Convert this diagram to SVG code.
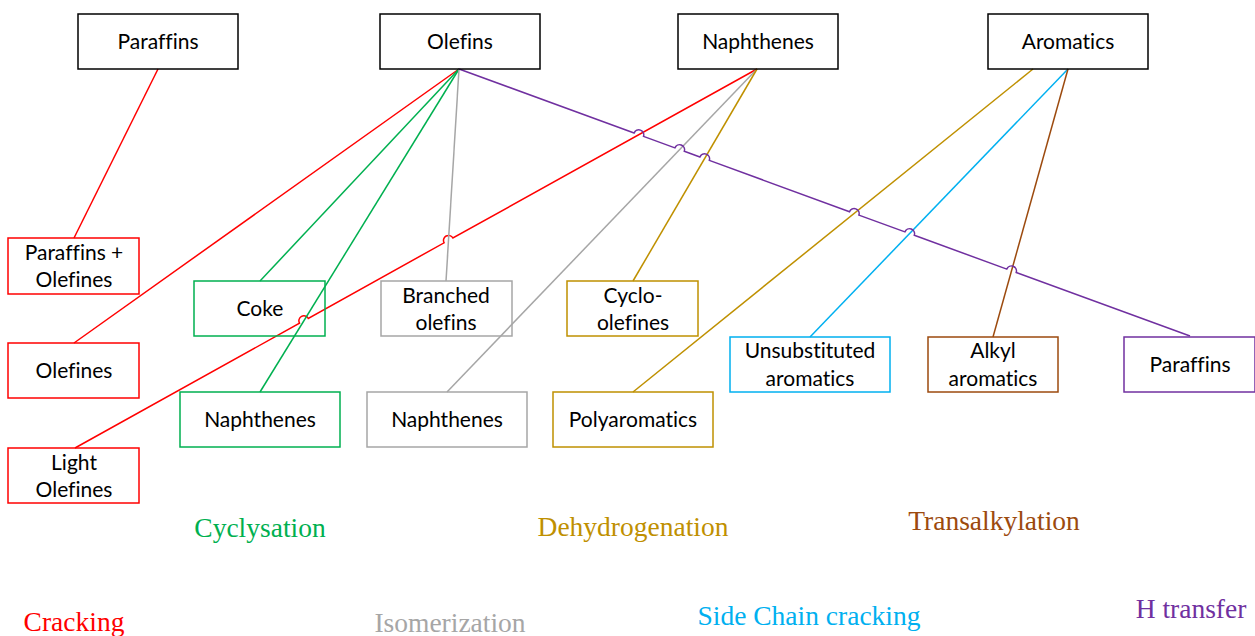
<svg xmlns="http://www.w3.org/2000/svg" width="1255" height="636" viewBox="0 0 1255 636">
<style>
.box{fill:none;stroke-width:1.5}
.t{font-family:Lato,"Liberation Sans",sans-serif;font-size:21px;fill:#000;text-anchor:middle;font-variant-ligatures:none}
.lbl{font-family:"Liberation Serif",serif;font-size:27.5px;text-anchor:middle}
.c{fill:none;stroke-width:1.5}
.red{stroke:#FF0000}.grn{stroke:#00B050}.gry{stroke:#A6A6A6}.gld{stroke:#BF9000}.cyn{stroke:#00B0F0}.brn{stroke:#9C4A0E}.pur{stroke:#7030A0}.blk{stroke:#000}
</style>
<rect width="1255" height="636" fill="#fff"/>
<g id="connectors">
<path class="c red" d="M158,69 L74,238"/>
<path class="c red" d="M459,69 L74,343"/>
<path class="c red" d="M75,448 L299.5,323.2 A5,5 0 0 1 308.3,318.4 L444.1,242.8 A5,5 0 0 1 452.9,238 L757,69"/>
<path class="c grn" d="M459,69 L260,281"/>
<path class="c grn" d="M459,69 L260,392"/>
<path class="c gry" d="M459,69 L446,281"/>
<path class="c gry" d="M757,69 L447,392"/>
<path class="c gld" d="M757,69 L633,281"/>
<path class="c gld" d="M1033,69 L633,392"/>
<path class="c cyn" d="M1068,69 L810,337"/>
<path class="c brn" d="M1068,69 L993,337"/>
<path class="c pur" d="M459,69 L634.1,133 A5,5 0 0 1 643.5,136.4 L674.9,147.9 A5,5 0 0 1 684.3,151.3 L699.9,157 A5,5 0 0 1 709.3,160.4 L849.5,211.7 A5,5 0 0 1 858.9,215.1 L904.9,231.9 A5,5 0 0 1 914.3,235.3 L1006.8,269.1 A5,5 0 0 1 1016.2,272.5 L1190,336"/>
</g>
<g id="n-paraffins"><rect class="box blk" x="78" y="14" width="160" height="55"/><text class="t" x="158" y="49">Paraffins</text></g>
<g id="n-olefins"><rect class="box blk" x="380" y="14" width="160" height="55"/><text class="t" x="460" y="49">Olefins</text></g>
<g id="n-naphthenes"><rect class="box blk" x="678" y="14" width="160" height="55"/><text class="t" x="758" y="49">Naphthenes</text></g>
<g id="n-aromatics"><rect class="box blk" x="988" y="14" width="160" height="55"/><text class="t" x="1068" y="49">Aromatics</text></g>
<g id="n-paraffins-olefines"><rect class="box red" x="8" y="238" width="131" height="56"/><text class="t" x="74" y="260">Paraffins +</text><text class="t" x="74" y="287">Olefines</text></g>
<g id="n-olefines"><rect class="box red" x="8" y="343" width="131" height="55"/><text class="t" x="74" y="378">Olefines</text></g>
<g id="n-light-olefines"><rect class="box red" x="8" y="448" width="131" height="55"/><text class="t" x="74" y="470">Light</text><text class="t" x="74" y="497">Olefines</text></g>
<g id="n-coke"><rect class="box grn" x="194" y="281" width="131" height="55"/><text class="t" x="260" y="316">Coke</text></g>
<g id="n-naphthenes-green"><rect class="box grn" x="180" y="392" width="160" height="55"/><text class="t" x="260" y="427">Naphthenes</text></g>
<g id="n-branched-olefins"><rect class="box gry" x="381" y="281" width="131" height="55"/><text class="t" x="446" y="303">Branched</text><text class="t" x="446" y="330">olefins</text></g>
<g id="n-naphthenes-gray"><rect class="box gry" x="367" y="392" width="160" height="55"/><text class="t" x="447" y="427">Naphthenes</text></g>
<g id="n-cyclo-olefines"><rect class="box gld" x="567" y="281" width="131" height="55"/><text class="t" x="633" y="303">Cyclo-</text><text class="t" x="633" y="330">olefines</text></g>
<g id="n-polyaromatics"><rect class="box gld" x="553" y="392" width="160" height="55"/><text class="t" x="633" y="427">Polyaromatics</text></g>
<g id="n-unsubstituted-aromatics"><rect class="box cyn" x="730" y="337" width="160" height="55"/><text class="t" x="810" y="358">Unsubstituted</text><text class="t" x="810" y="386">aromatics</text></g>
<g id="n-alkyl-aromatics"><rect class="box brn" x="928" y="337" width="130" height="55"/><text class="t" x="993" y="358">Alkyl</text><text class="t" x="993" y="386">aromatics</text></g>
<g id="n-paraffins-purple"><rect class="box pur" x="1124" y="337" width="131" height="55"/><text class="t" x="1190" y="372">Paraffins</text></g>
<g id="labels">
<text class="lbl" x="74" y="631" fill="#FF0000">Cracking</text>
<text class="lbl" x="450" y="632" fill="#A6A6A6">Isomerization</text>
<text class="lbl" x="260" y="537" fill="#00B050">Cyclysation</text>
<text class="lbl" x="633" y="536" fill="#BF9000">Dehydrogenation</text>
<text class="lbl" x="994" y="530" fill="#9C4A0E">Transalkylation</text>
<text class="lbl" x="809" y="625" fill="#00B0F0">Side Chain cracking</text>
<text class="lbl" x="1191" y="618" fill="#7030A0">H transfer</text>
</g>
</svg>
